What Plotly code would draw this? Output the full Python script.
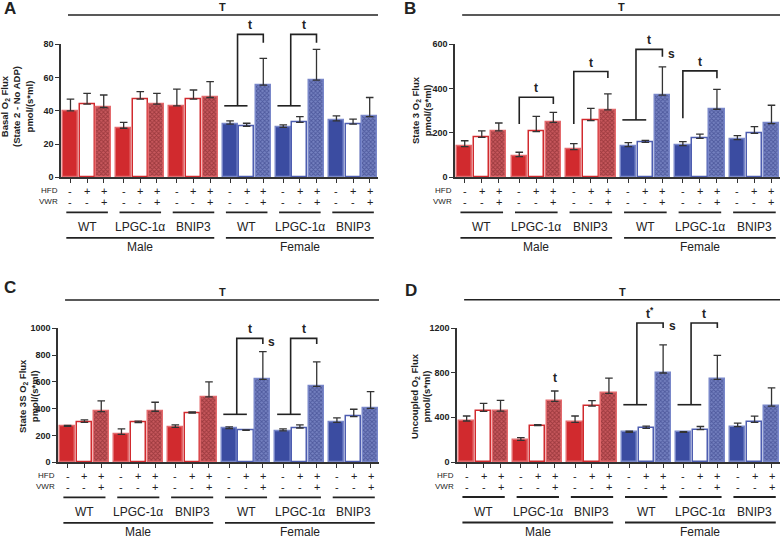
import plotly.graph_objects as go

W, H = 781, 539

genotypes = ["WT", "LPGC-1α", "BNIP3"]
sexes = ["Male", "Female"]
hfd_signs = ["-", "+", "+"]
vwr_signs = ["-", "-", "+"]

# bar order: Male WT, Male LPGC-1a, Male BNIP3, Female WT, Female LPGC-1a, Female BNIP3
# each group: control, HFD, HFD+VWR
basal_mean = [40, 44, 42, 29.5, 47, 44, 43, 47, 48, 32, 30.7, 55.5, 30, 33, 58.5, 34, 32, 36.5]
basal_sem = [7, 6.5, 7.5, 3.5, 4.5, 6.5, 10, 5.5, 9.5, 2, 1.8, 16, 1.5, 3.5, 18.5, 3, 3, 11.5]

state3_mean = [138, 180, 209, 93, 206, 248, 125, 256, 304, 138, 158, 371, 143, 176, 307, 170, 198, 242]
state3_sem = [27, 29, 36, 20, 69, 45, 27, 55, 72, 18, 9, 127, 18, 19, 90, 18, 31, 83]

state3s_mean = [268, 298, 378, 209, 296, 381, 261, 368, 488, 251, 239, 619, 234, 256, 567, 298, 341, 403]
state3s_sem = [8, 18, 80, 40, 12, 67, 18, 8, 112, 13, 3, 207, 15, 23, 182, 33, 55, 124]

uncoupled_mean = [367, 454, 455, 194, 325, 543, 355, 501, 615, 266, 301, 797, 266, 290, 740, 316, 355, 501]
uncoupled_sem = [45, 71, 97, 24, 10, 93, 57, 48, 137, 10, 21, 251, 6, 28, 215, 33, 55, 162]

# brackets: (group, kind, low, top, end, label, side label)
basal_brackets = [(3, "split", 43, 86, 81, "t", ""), (4, "split", 43, 86, 81, "t", "")]
state3_brackets = [(1, "simple", 240, 361, 331, "t", ""), (2, "simple", 240, 477, 448, "t", ""),
                   (3, "split", 259, 577, 544, "t", "s"), (4, "simple", 266, 480, 447, "t", "")]
state3s_brackets = [(3, "split", 358, 925, 883, "t", "s"), (4, "split", 358, 925, 883, "t", "")]
uncoupled_brackets = [(3, "split", 513, 1245, 1200, "t<sup>*</sup>", "s"),
                      (4, "split", 513, 1245, 1200, "t", "")]
uncoupled_marks = [(1, 2, 752, "t")]

RED, RED_EDGE, RED_HATCH, RED_BG = "#d12a2e", "#e46a6d", "#6e1a1e", "#c8585d"
BLUE, BLUE_EDGE, BLUE_HATCH, BLUE_BG = "#3b4ca1", "#7987c9", "#27317a", "#7581c0"
INK = "#222222"
FONT = "Liberation Sans, Arial, sans-serif"

panels = [
    dict(letter="A", mean=basal_mean, sem=basal_sem, ticks=[0, 20, 40, 60, 80],
         title="Basal O<sub>2</sub> Flux<br>(State 2 - No ADP)<br>pmol/(s*ml)",
         x0=61, x1=378, y0=177.3, y1=44.3, lx=10, ly=9, tx=17, ty=107,
         brackets=basal_brackets, marks=[]),
    dict(letter="B", mean=state3_mean, sem=state3_sem, ticks=[0, 200, 400, 600],
         title="State 3 O<sub>2</sub> Flux<br>pmol/(s*ml)",
         x0=455, x1=780, y0=177.3, y1=44.3, lx=410, ly=9, tx=421, ty=110,
         brackets=state3_brackets, marks=[]),
    dict(letter="C", mean=state3s_mean, sem=state3s_sem, ticks=[0, 200, 400, 600, 800, 1000],
         title="State 3S O<sub>2</sub> Flux<br>pmol/(s*ml)",
         x0=58, x1=379, y0=462.3, y1=328.3, lx=10, ly=287, tx=28, ty=396,
         brackets=state3s_brackets, marks=[]),
    dict(letter="D", mean=uncoupled_mean, sem=uncoupled_sem, ticks=[0, 400, 800, 1200],
         title="Uncoupled O<sub>2</sub> Flux<br>pmol/(s*ml)",
         x0=457, x1=780, y0=462, y1=328, lx=411, ly=290, tx=420, ty=396,
         brackets=uncoupled_brackets, marks=uncoupled_marks),
]

GP = 3.2  # group pitch in bar units
XR = [-0.57, 18.5]


def pos(g, i):
    return g * GP + i


def label(text, x, y, xref="paper", size=12, **kw):
    d = dict(text=text, x=x, y=y, xref=xref, yref="paper", showarrow=False,
             xanchor="center", yanchor="middle", font=dict(size=size, color=INK))
    d.update(kw)
    return d


fig = go.Figure()
shapes = []
ann = []
layout = {}

for n, p in enumerate(panels):
    sfx = "" if n == 0 else str(n + 1)
    xid, yid = "x" + sfx, "y" + sfx
    ymax = p["ticks"][-1]
    pb, pt = 1 - p["y0"] / H, 1 - p["y1"] / H

    def vy(v, pb=pb, pt=pt, ymax=ymax):
        return pb + v / ymax * (pt - pb)

    def oy(dpx, y0=p["y0"]):
        return 1 - (y0 + dpx) / H

    for s, sex in enumerate(sexes):
        for i in range(3):
            idx = [s * 9 + g * 3 + i for g in range(3)]
            xs = [pos(s * 3 + g, i) for g in range(3)]
            if s == 0:
                fill, edge, hatch, bg = RED, RED_EDGE, RED_HATCH, RED_BG
            else:
                fill, edge, hatch, bg = BLUE, BLUE_EDGE, BLUE_HATCH, BLUE_BG
            marker = dict(line=dict(color=edge, width=1.5))
            if i == 0:
                marker["color"] = fill
            elif i == 1:
                marker["color"] = "white"
                marker["line"]["color"] = fill if s == 0 else "#4d5db0"
            else:
                marker["color"] = bg
                marker["pattern"] = dict(shape="x", size=3, solidity=0.5,
                                         fgcolor=hatch, bgcolor=bg)
            fig.add_trace(go.Bar(
                x=xs, y=[p["mean"][k] for k in idx], width=0.9,
                marker=marker, xaxis=xid, yaxis=yid, showlegend=False,
                error_y=dict(type="data", symmetric=False,
                             array=[p["sem"][k] for k in idx],
                             arrayminus=[0, 0, 0], color="#333333",
                             thickness=1.3, width=3.8)))

    layout["xaxis" + sfx] = dict(domain=[p["x0"] / W, p["x1"] / W], range=XR,
                                 anchor=yid, showgrid=False, zeroline=False,
                                 showline=True, linecolor="#333333", linewidth=1.5,
                                 tickvals=[pos(g, i) for g in range(6) for i in range(3)],
                                 ticks="outside", ticklen=4, tickcolor="#333333",
                                 showticklabels=False)
    layout["yaxis" + sfx] = dict(domain=[pb, pt], range=[0, ymax], anchor=xid,
                                 showgrid=False, zeroline=False, showline=True,
                                 linecolor="#333333", linewidth=1.5,
                                 tickvals=p["ticks"], ticks="outside", ticklen=4,
                                 tickcolor="#333333", automargin=False,
                                 tickfont=dict(size=9, color=INK, weight="bold"))

    # panel letter and y title
    ann.append(label("<b>" + p["letter"] + "</b>", p["lx"] / W, 1 - p["ly"] / H, size=17))
    ann.append(label("<b>" + p["title"] + "</b>", p["tx"] / W, 1 - p["ty"] / H,
                     size=9.5, textangle=-90))

    # top "T" line
    shapes.append(dict(type="line", xref=xid, yref="paper", x0=-0.15, x1=XR[1],
                       y0=oy(-162.3), y1=oy(-162.3), line=dict(color=INK, width=1.6)))
    ann.append(label("<b>T</b>", (XR[1] - 0.15) / 2, oy(-170), xref=xid, size=11))

    # HFD / VWR rows
    ann.append(label("HFD", (p["x0"] - 1) / W, oy(13.5), size=8, xanchor="right"))
    ann.append(label("VWR", (p["x0"] - 1) / W, oy(24.5), size=8, xanchor="right"))
    for g in range(6):
        for i in range(3):
            ann.append(label(hfd_signs[i], pos(g, i), oy(13.5), xref=xid, size=11))
            ann.append(label(vwr_signs[i], pos(g, i), oy(24.5), xref=xid, size=11))
        shapes.append(dict(type="line", xref=xid, yref="paper",
                           x0=pos(g, 0) - 0.25, x1=pos(g, 2) + 0.25,
                           y0=oy(35), y1=oy(35), line=dict(color=INK, width=1.8)))
        ann.append(label(genotypes[g % 3], pos(g, 1), oy(49.5), xref=xid))
    for s, sex in enumerate(sexes):
        shapes.append(dict(type="line", xref=xid, yref="paper",
                           x0=pos(s * 3, 0) - 0.25, x1=pos(s * 3 + 2, 2) + 0.25,
                           y0=oy(60.5), y1=oy(60.5), line=dict(color=INK, width=1.8)))
        ann.append(label(sex, pos(s * 3 + 1, 1), oy(70), xref=xid))

    # significance brackets
    bl = dict(color=INK, width=1.6)
    for g, kind, low, top, end, lab, side in p["brackets"]:
        p0, p2 = pos(g, 0), pos(g, 2)
        if kind == "split":
            xv = p0 + 0.45
            shapes.append(dict(type="line", xref=xid, yref="paper", x0=p0 - 0.35,
                               x1=p0 + 1.05, y0=vy(low), y1=vy(low), line=bl))
        else:
            xv = p0
        path = "M {},{} L {},{} L {},{} L {},{}".format(xv, vy(low), xv, vy(top),
                                                        p2, vy(top), p2, vy(end))
        shapes.append(dict(type="path", xref=xid, yref="paper", path=path, line=bl))
        ann.append(label("<b>" + lab + "</b>", (xv + p2) / 2, vy(top), xref=xid,
                         yanchor="bottom"))
        if side:
            ann.append(label("<b>" + side + "</b>", p2 + 0.2, vy((top + 2 * end) / 3),
                             xref=xid, xanchor="left"))
    for g, i, v, lab in p["marks"]:
        ann.append(label("<b>" + lab + "</b>", pos(g, i), vy(v), xref=xid))

fig.update_layout(width=W, height=H, margin=dict(l=0, r=0, t=0, b=0),
                  paper_bgcolor="white", plot_bgcolor="white",
                  font=dict(family=FONT, color=INK), bargap=0,
                  shapes=shapes, annotations=ann, **layout)

fig.write_html("out.html", config={"displayModeBar": False},
               post_script="document.body.style.margin='0';")
